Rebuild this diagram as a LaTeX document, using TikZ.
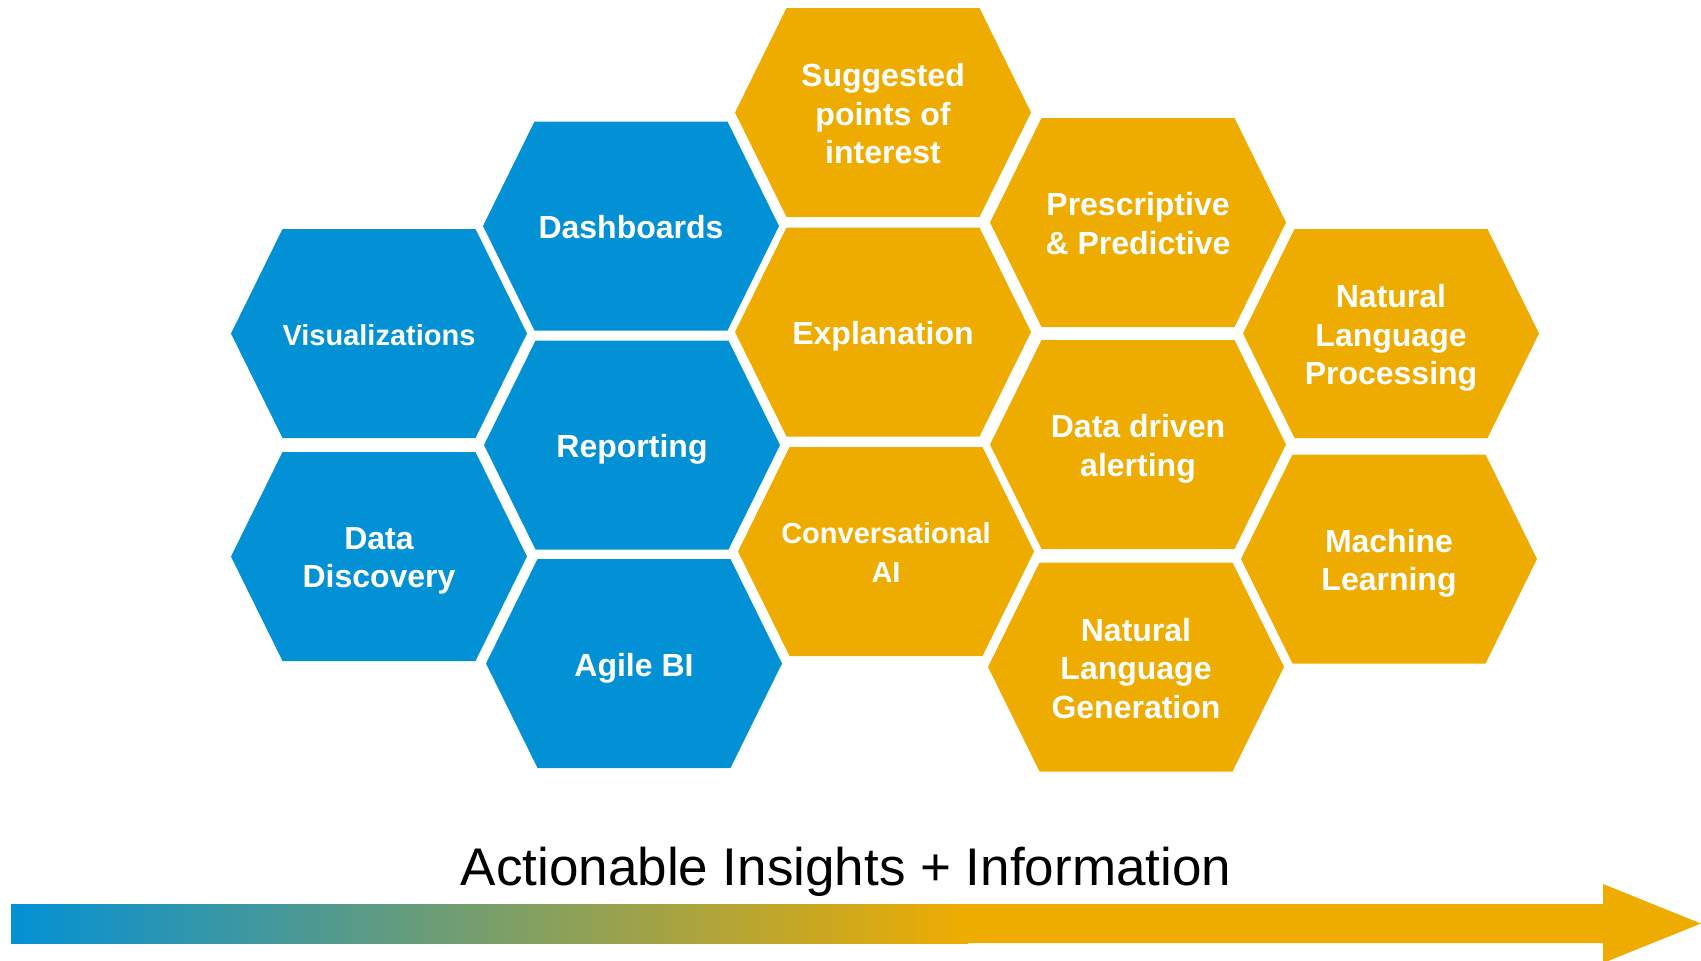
\documentclass[tikz,border=0pt]{standalone}
\usepackage{fontspec}
\setmainfont{Liberation Sans}
\definecolor{hexblue}{RGB}{3,145,213}
\definecolor{hexorange}{RGB}{239,172,0}
\newcommand\hexcell[6][]{%
  \fill[#5,shift={(#3,#4)}] (-148,0) -- (-96.5,-104.5) -- (96.5,-104.5) -- (148,0) -- (96.5,104.5) -- (-96.5,104.5) -- cycle;
  \node[hextext,#1] (#2) at (#3,#4) {#6};}
\begin{document}
\begin{tikzpicture}[x=0.5pt,y=-0.5pt,
  hextext/.style={text=white,font=\bfseries\fontsize{16}{19.25}\selectfont,align=center,inner sep=0pt,text depth=0pt,yshift=-0.5pt},
  smalltext/.style={font=\bfseries\fontsize{14.5}{19.25}\selectfont},
  titletext/.style={font=\fontsize{26.5}{30}\selectfont,anchor=base,inner sep=0pt}]
\useasboundingbox (0,0) rectangle (1701,960);
% column 1
\hexcell[smalltext]{vis}{379}{333.5}{hexblue}{Visualizations}
\hexcell{dd}{379}{556.5}{hexblue}{Data\\Discovery}
% column 2
\hexcell{dash}{631}{226}{hexblue}{Dashboards}
\hexcell{rep}{632}{445}{hexblue}{Reporting}
\hexcell{agile}{634}{663.5}{hexblue}{Agile BI}
% column 3
\hexcell{sugg}{883}{112.5}{hexorange}{Suggested\\points of\\interest}
\hexcell{expl}{883}{332}{hexorange}{Explanation}
\hexcell[smalltext]{conv}{886}{551.5}{hexorange}{Conversational\\AI}
% column 4
\hexcell{presc}{1138}{222.5}{hexorange}{Prescriptive\\\& Predictive}
\hexcell{alert}{1138}{444.5}{hexorange}{Data driven\\alerting}
\hexcell{nlg}{1136}{667}{hexorange}{Natural\\Language\\Generation}
% column 5
\hexcell{nlp}{1391}{333.5}{hexorange}{Natural\\Language\\Processing}
\hexcell{ml}{1389}{559}{hexorange}{Machine\\Learning}
% arrow
\shade[left color=hexblue,right color=hexorange] (11,904) rectangle (968,943);
\fill[hexorange] (966,904) -- (1603,904) -- (1603,884) -- (1701,923.5) -- (1603,963) -- (1603,943) -- (966,943) -- cycle;
\node[titletext] (title) at (846,885) {Actionable Insights + Information};
\end{tikzpicture}
\end{document}
